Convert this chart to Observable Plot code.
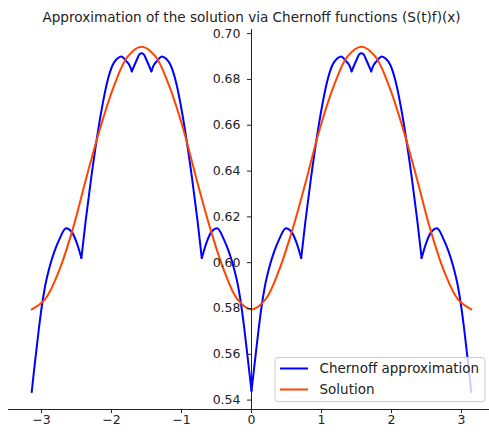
<!DOCTYPE html>
<html>
<head>
<meta charset="utf-8">
<script src="https://cdn.jsdelivr.net/npm/d3@7"></script>
<script src="https://cdn.jsdelivr.net/npm/@observablehq/plot@0.6"></script>
<style>
  html, body { margin: 0; padding: 0; background: #fff; }
  #chart { width: 489px; height: 434px; overflow: hidden; }
  svg { font-family: "DejaVu Sans", sans-serif; }
</style>
</head>
<body>
<div id="chart"></div>
<script>
const titleText = "Approximation of the solution via Chernoff functions (S(t)f)(x)";
const seriesNames = ["Chernoff approximation", "Solution"];
const xTicks = [-3, -2, -1, 0, 1, 2, 3];
const yTicks = [0.54, 0.56, 0.58, 0.60, 0.62, 0.64, 0.66, 0.68, 0.70];

// Chernoff approximation (blue)
const chernoffX = [
  -3.14, -3.11, -3.08, -3.04, -3.00, -2.95, -2.89, -2.82, -2.74, -2.65, -2.57, -2.50, -2.43, -2.37, -2.29, -2.21, -2.14, -2.06, -1.98, -1.92, -1.86, -1.79, -1.74, -1.71, -1.64, -1.60, -1.57,
  -1.54, -1.50, -1.43, -1.40, -1.35, -1.28, -1.22, -1.16, -1.08, -1.00, -0.93, -0.85, -0.77, -0.71, -0.64, -0.57, -0.49, -0.40, -0.32, -0.25, -0.19, -0.14, -0.10, -0.06, -0.03, 0,
  0.03, 0.06, 0.10, 0.14, 0.19, 0.25, 0.32, 0.40, 0.49, 0.57, 0.64, 0.71, 0.77, 0.85, 0.93, 1.00, 1.08, 1.16, 1.22, 1.28, 1.35, 1.40, 1.43, 1.50, 1.54, 1.57,
  1.60, 1.64, 1.71, 1.74, 1.79, 1.86, 1.92, 1.98, 2.06, 2.14, 2.21, 2.29, 2.37, 2.43, 2.50, 2.57, 2.65, 2.74, 2.82, 2.89, 2.95, 3.00, 3.04, 3.08, 3.11, 3.14
];
const chernoffY = [
  0.5435, 0.552, 0.560, 0.5705, 0.580, 0.5895, 0.5975, 0.6045, 0.6105, 0.615, 0.6135, 0.609, 0.602, 0.618, 0.637, 0.654, 0.667, 0.679, 0.6865, 0.689, 0.690, 0.688, 0.686, 0.6835, 0.6885, 0.691, 0.6914,
  0.691, 0.6885, 0.6835, 0.686, 0.688, 0.690, 0.689, 0.6865, 0.679, 0.667, 0.654, 0.637, 0.618, 0.602, 0.609, 0.6135, 0.615, 0.6105, 0.6045, 0.5975, 0.5895, 0.580, 0.5705, 0.560, 0.552, 0.544,
  0.552, 0.560, 0.5705, 0.580, 0.5895, 0.5975, 0.6045, 0.6105, 0.615, 0.6135, 0.609, 0.602, 0.618, 0.637, 0.654, 0.667, 0.679, 0.6865, 0.689, 0.690, 0.688, 0.686, 0.6835, 0.6885, 0.691, 0.6914,
  0.691, 0.6885, 0.6835, 0.686, 0.688, 0.690, 0.689, 0.6865, 0.679, 0.667, 0.654, 0.637, 0.618, 0.602, 0.609, 0.6135, 0.615, 0.6105, 0.6045, 0.5975, 0.5895, 0.580, 0.5705, 0.560, 0.552, 0.5435
];
// x positions where the blue curve has a sharp corner
const cuspX = [-2.43, -1.71, -1.43, -0.71, 0, 0.71, 1.43, 1.71, 2.43];

// Solution (orange)
const solutionX = [-3.14, -2.95, -2.75, -2.55, -2.36, -2.16, -1.96, -1.77, -1.57, -1.37, -1.18, -0.98, -0.79, -0.59, -0.39, -0.20, 0,
  0.20, 0.39, 0.59, 0.79, 0.98, 1.18, 1.37, 1.57, 1.77, 1.96, 2.16, 2.36, 2.55, 2.75, 2.95, 3.14];
const solutionY = [0.5796, 0.5840, 0.5964, 0.6150, 0.6370, 0.6589, 0.6775, 0.6900, 0.6943, 0.6900, 0.6775, 0.6589, 0.6370, 0.6150, 0.5964, 0.5840, 0.5796,
  0.5840, 0.5964, 0.6150, 0.6370, 0.6589, 0.6775, 0.6900, 0.6943, 0.6900, 0.6775, 0.6589, 0.6370, 0.6150, 0.5964, 0.5840, 0.5796];

// split the blue series into smooth pieces between corners
const chernoffData = [];
let seg = 0;
chernoffX.forEach((x, i) => {
  chernoffData.push({x, y: chernoffY[i], seg});
  if (cuspX.includes(x)) {
    seg += 1;
    chernoffData.push({x, y: chernoffY[i], seg});
  }
});
const solutionData = solutionX.map((x, i) => ({x, y: solutionY[i]}));

const BLUE = "#0000ff", ORANGE = "#ff4500", INK = "#222";
const fmtX = d => d < 0 ? "\u2212" + (-d) : String(d);

const chart = Plot.plot({
  width: 489,
  height: 434,
  marginLeft: 8,
  marginRight: -5,
  marginTop: 29,
  marginBottom: 25,
  style: {fontFamily: "DejaVu Sans", fontSize: "12.5px", color: INK, background: "white", overflow: "visible"},
  x: {domain: [-3.4714, 3.4714]},
  y: {domain: [0.5359, 0.7018], axis: null},
  marks: [
    Plot.line(chernoffData, {x: "x", y: "y", z: "seg", stroke: BLUE, strokeWidth: 2, curve: "monotone-x"}),
    Plot.line(solutionData, {x: "x", y: "y", stroke: ORANGE, strokeWidth: 2, curve: "catmull-rom"}),
    Plot.ruleX([0], {stroke: INK, strokeWidth: 1}),
    Plot.frame({anchor: "bottom", stroke: INK, strokeWidth: 1}),
    Plot.ruleY(yTicks, {y: d => d, x1: () => 0, x2: () => 0, insetLeft: -4, stroke: INK, strokeWidth: 1}),
    Plot.text(yTicks, {x: () => 0, y: d => d, text: d => d.toFixed(2), dx: -11, textAnchor: "end", fill: INK, fontSize: 12.5}),
    Plot.axisX({ticks: xTicks, tickFormat: fmtX, tickSize: 4, tickPadding: 1.5, stroke: INK, fill: INK, fontSize: 12.5, label: null}),
    Plot.text([titleText], {frameAnchor: "top", lineAnchor: "bottom", dy: -8, fontSize: 13.6, fill: INK})
  ]
});

document.getElementById("chart").appendChild(chart);

// legend (lower right, inside the axes)
const svg = d3.select(chart);
const lg = svg.append("g").attr("font-family", "DejaVu Sans").attr("font-size", 13.5).attr("text-anchor", "start");
lg.append("rect").attr("x", 275).attr("y", 357.5).attr("width", 210).attr("height", 44)
  .attr("rx", 3).attr("fill", "white").attr("fill-opacity", 0.8).attr("stroke", "#cccccc").attr("stroke-width", 1);
const colors = [BLUE, ORANGE];
seriesNames.forEach((name, i) => {
  const cy = 368.5 + i * 21;
  lg.append("line").attr("x1", 280).attr("x2", 308).attr("y1", cy).attr("y2", cy)
    .attr("stroke", colors[i]).attr("stroke-width", 2);
  lg.append("text").attr("x", 319.5).attr("y", cy + 4.8).attr("fill", INK).attr("text-anchor", "start").text(name);
});
</script>
</body>
</html>
